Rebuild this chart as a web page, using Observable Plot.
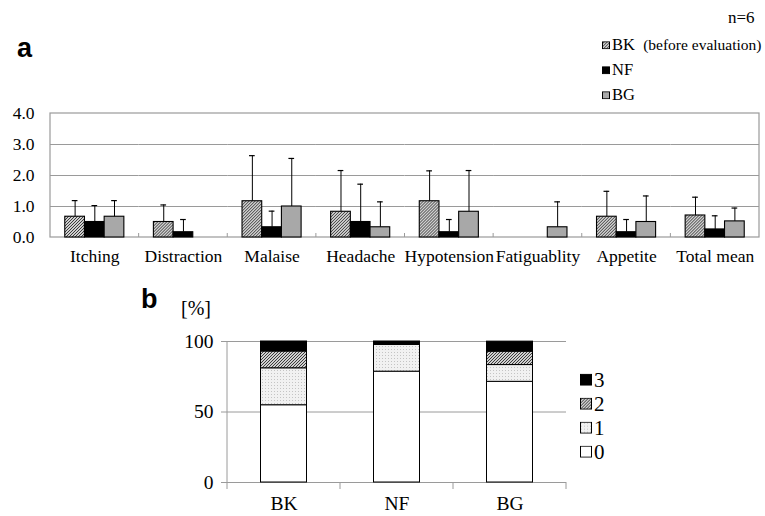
<!DOCTYPE html>
<html>
<head>
<meta charset="utf-8">
<script src="https://cdn.jsdelivr.net/npm/d3@7"></script>
<script src="https://cdn.jsdelivr.net/npm/@observablehq/plot@0.6"></script>
<style>
  body { margin: 0; background: #fff; }
  #wrap { position: relative; width: 765px; height: 516px; overflow: hidden; font-family: "Liberation Serif", serif; color: #000; }
  #wrap > div > svg { display: block; }
  #wrap svg text { font-family: "Liberation Serif", serif; }
  .ov { position: absolute; white-space: nowrap; line-height: 1; transform: translateY(-50%); }
  #wrap svg.sw { display: inline-block; vertical-align: middle; }
</style>
</head>
<body>
<div id="wrap">
  <div id="a"></div>
  <div id="b"></div>
</div>
<script>
// ---------- data: panel a ----------
const cats = ["Itching", "Distraction", "Malaise", "Headache", "Hypotension", "Fatiguablity", "Appetite", "Total mean"];
const series = ["BK", "NF", "BG"];
const meanBK = [0.67, 0.50, 1.17, 0.83, 1.17, 0.00, 0.67, 0.71];
const meanNF = [0.50, 0.17, 0.33, 0.50, 0.17, 0.00, 0.17, 0.26];
const meanBG = [0.67, 0.00, 1.00, 0.33, 0.83, 0.33, 0.50, 0.52];
const sdBK = [0.52, 0.55, 1.47, 1.33, 0.98, 0.00, 0.82, 0.59];
const sdNF = [0.53, 0.41, 0.52, 1.22, 0.41, 0.00, 0.41, 0.44];
const sdBG = [0.52, 0.00, 1.55, 0.82, 1.33, 0.82, 0.84, 0.43];
const yTicksA = [0, 1, 2, 3, 4];

// ---------- data: panel b ----------
const groups = ["BK", "NF", "BG"];
const levels = ["0", "1", "2", "3"];
const pct0 = [54.8, 78.6, 71.4];
const pct1 = [26.2, 19.0, 11.9];
const pct2 = [11.9, 0.0, 9.5];
const pct3 = [7.1, 2.4, 7.1];
const yTicksB = [0, 50, 100];

// ---------- build tables ----------
const meansBy = {BK: meanBK, NF: meanNF, BG: meanBG};
const sdsBy = {BK: sdBK, NF: sdNF, BG: sdBG};
const rowsA = [];
cats.forEach((c, i) => series.forEach(s => {
  rowsA.push({cat: c, series: s, mean: meansBy[s][i], sd: sdsBy[s][i], upper: meansBy[s][i] + sdsBy[s][i]});
}));
const pctBy = [pct0, pct1, pct2, pct3];
const rowsB = [];
groups.forEach((g, gi) => levels.forEach((l, li) => rowsB.push({group: g, level: l, pct: pctBy[li][gi]})));

const GRID = "#9a9a9a";

// ---------- panel a ----------
const plotA = Plot.plot({
  width: 765,
  height: 270,
  marginLeft: 50,
  marginRight: 6,
  marginTop: 113,
  marginBottom: 33,
  style: {background: "transparent", fontFamily: "Liberation Serif", fontSize: "17.5px", color: "#000", overflow: "visible"},
  facet: {data: rowsA, x: "cat"},
  fx: {domain: cats, padding: 0, round: false, axis: "bottom", label: null, tickSize: 0, tickPadding: 12},
  x: {domain: series, paddingInner: 0, paddingOuter: 0.75, round: false, axis: null},
  y: {domain: [0, 4], ticks: yTicksA, tickFormat: d => d.toFixed(1), tickSize: 0, tickPadding: 16, label: null},
  color: {domain: series, range: ["url(#hatch)", "#000000", "#a8a8a8"]},
  marks: [
    Plot.ruleY([1, 2, 3], {stroke: GRID, strokeWidth: 1}),
    Plot.barY(rowsA, {x: "series", y: "mean", fill: "series", stroke: "#000", strokeWidth: 1.1}),
    Plot.ruleX(rowsA, {filter: d => d.sd > 0, x: "series", y1: "mean", y2: "upper", stroke: "#000", strokeWidth: 1}),
    Plot.tickY(rowsA, {filter: d => d.sd > 0, x: "series", y: "upper", stroke: "#000", strokeWidth: 1.2, insetLeft: 7, insetRight: 7})
  ]
});
document.getElementById("a").appendChild(plotA);

// patterns
{
  const defs = d3.select(plotA).append("defs");
  const h = defs.append("pattern").attr("id", "hatch").attr("width", 3).attr("height", 3).attr("patternUnits", "userSpaceOnUse");
  h.append("rect").attr("width", 3).attr("height", 3).attr("fill", "#cfcfcf");
  h.append("path").attr("d", "M-1,1 l2,-2 M0,3 l3,-3 M2,4 l2,-2").attr("stroke", "#2a2a2a").attr("stroke-width", 0.9);
  const p = defs.append("pattern").attr("id", "dots").attr("width", 3).attr("height", 3).attr("patternUnits", "userSpaceOnUse");
  p.append("rect").attr("width", 3).attr("height", 3).attr("fill", "#f1f1f1");
  p.append("rect").attr("x", 1).attr("y", 1).attr("width", 1).attr("height", 1).attr("fill", "#c4c4c4");
}

// frame and inside ticks for panel a, from the plot's scales
{
  const fxS = plotA.scale("fx");
  const yS = plotA.scale("y");
  const fx = d3.scaleBand().domain(fxS.domain).range(fxS.range);
  const y = d3.scaleLinear().domain(yS.domain).range(yS.range);
  const left = fxS.range[0], right = fxS.range[1];
  const g = d3.select(plotA).insert("g", ":scope > g").attr("fill", "none").attr("stroke", GRID);
  g.append("rect").attr("x", left).attr("y", y(4)).attr("width", right - left).attr("height", y(0) - y(4)).attr("stroke-width", 1.2);
  fxS.domain.slice(1).forEach(c => {
    g.append("line").attr("x1", fx(c)).attr("x2", fx(c)).attr("y1", y(0)).attr("y2", y(0) - 4);
  });
}

// ---------- panel b ----------
const plotB = Plot.plot({
  width: 765,
  height: 246,
  marginLeft: 227,
  marginRight: 199,
  marginTop: 71,
  marginBottom: 34,
  style: {background: "transparent", fontFamily: "Liberation Serif", fontSize: "19.5px", color: "#000", overflow: "visible"},
  x: {domain: groups, padding: 0, round: false, label: null, tickSize: 0, tickPadding: 14},
  y: {domain: [0, 100], ticks: yTicksB, tickSize: 6, tickPadding: 8, label: null},
  color: {domain: levels, range: ["#ffffff", "url(#dots)", "url(#hatch)", "#000000"]},
  marks: [
    Plot.ruleY(yTicksB, {stroke: GRID, strokeWidth: 1}),
    Plot.barY(rowsB, {x: "group", y: "pct", fill: "level", stroke: "#000", strokeWidth: 1, insetLeft: 33.5, insetRight: 33.5})
  ]
});
document.getElementById("b").appendChild(plotB);

{
  const svg = d3.select(plotB);
  svg.selectAll('[aria-label^="y-axis"] line').style("stroke", GRID);
  svg.selectAll('[aria-label="y-axis tick"]').style("stroke", GRID);
  const xS = plotB.scale("x");
  const yS = plotB.scale("y");
  const x = d3.scaleBand().domain(xS.domain).range(xS.range);
  const y = d3.scaleLinear().domain(yS.domain).range(yS.range);
  const g = svg.append("g").attr("stroke", GRID).attr("fill", "none");
  g.append("line").attr("x1", xS.range[0]).attr("x2", xS.range[0]).attr("y1", y(100)).attr("y2", y(0) + 7);
  xS.domain.forEach(d => {
    const e = x(d) + x.bandwidth();
    g.append("line").attr("x1", e).attr("x2", e).attr("y1", y(0)).attr("y2", y(0) + 7);
  });
}

// ---------- overlay texts and legends ----------
const wrap = document.getElementById("wrap");
function ov(html, x, y, css) {
  const d = document.createElement("div");
  d.className = "ov";
  d.style.left = x + "px";
  d.style.top = y + "px";
  if (css) d.style.cssText += css;
  d.innerHTML = html;
  wrap.appendChild(d);
  return d;
}
function sw(fill, size) {
  return `<svg class="sw" width="${size}" height="${size}"><rect x="0.5" y="0.5" width="${size - 1}" height="${size - 1}" fill="${fill}" stroke="#000" stroke-width="1"/></svg>`;
}
ov("a", 17, 48, "font-family:'Liberation Sans',Arial,sans-serif;font-weight:bold;font-size:27px;");
ov("b", 141, 299, "font-family:'Liberation Sans',Arial,sans-serif;font-weight:bold;font-size:27px;");
ov("n=6", 728, 17, "font-size:17px;");
ov("[%]", 181, 308, "font-size:20px;");

const legendA = [
  {fill: "url(#hatch)", label: "BK&nbsp;&nbsp;<span style='font-size:15.5px'>(before evaluation)</span>", y: 45},
  {fill: "#000000", label: "NF", y: 70},
  {fill: "#a8a8a8", label: "BG", y: 95}
];
legendA.forEach(e => ov(sw(e.fill, 8) + `<span style="margin-left:2px;vertical-align:middle">${e.label}</span>`, 602, e.y, "font-size:16.5px;"));

const legendB = [
  {fill: "#000000", label: "3", y: 379},
  {fill: "url(#hatch)", label: "2", y: 403},
  {fill: "url(#dots)", label: "1", y: 427},
  {fill: "#ffffff", label: "0", y: 451}
];
legendB.forEach(e => ov(sw(e.fill, 12) + `<span style="margin-left:2px;vertical-align:middle">${e.label}</span>`, 580, e.y, "font-size:21px;"));
</script>
</body>
</html>
